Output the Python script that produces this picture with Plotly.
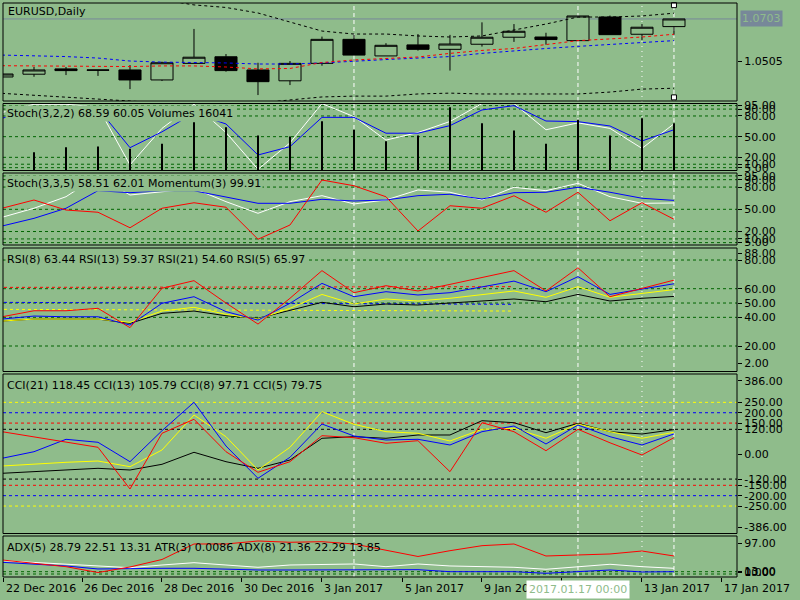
import plotly.graph_objects as go

BG = "#8FBC8B"
LEVEL = "#006400"
FONT = "DejaVu Sans"

# bar index, 22 Dec 2016 ... 17 Jan 2017
bars = list(range(22))

opens = [1.0430, 1.0443, 1.0468, 1.0463, 1.0463, 1.0416, 1.0494, 1.0525, 1.0463, 1.0412, 1.0494,
         1.0607, 1.0529, 1.0581, 1.0560, 1.0584, 1.0617, 1.0618, 1.0601, 1.0712, 1.0631, 1.0667]
highs = [1.0446, 1.0477, 1.0477, 1.0463, 1.0486, 1.0502, 1.0656, 1.0538, 1.0497, 1.0505, 1.0620,
         1.0628, 1.0589, 1.0632, 1.0628, 1.0687, 1.0679, 1.0638, 1.0717, 1.0719, 1.0679, 1.0703]
lows = [1.0428, 1.0431, 1.0439, 1.0435, 1.0373, 1.0411, 1.0494, 1.0455, 1.0345, 1.0392, 1.0483,
        1.0533, 1.0529, 1.0554, 1.0460, 1.0573, 1.0595, 1.0582, 1.0601, 1.0629, 1.0604, 1.0626]
closes = [1.0444, 1.0463, 1.0460, 1.0462, 1.0416, 1.0497, 1.0523, 1.0460, 1.0408, 1.0494, 1.0607,
          1.0533, 1.0579, 1.0560, 1.0585, 1.0617, 1.0645, 1.0606, 1.0717, 1.0629, 1.0664, 1.0703]

band_up = [1.0887, 1.0863, 1.0840, 1.0821, 1.0807, 1.0793, 1.0769, 1.0757, 1.0731, 1.0689, 1.0646,
           1.0632, 1.0632, 1.0623, 1.0618, 1.0623, 1.0651, 1.0679, 1.0712, 1.0712, 1.0717, 1.0730]
band_lo = [1.0353, 1.0345, 1.0336, 1.0326, 1.0317, 1.0307, 1.0303, 1.0303, 1.0307, 1.0322, 1.0336,
           1.0340, 1.0340, 1.0350, 1.0354, 1.0350, 1.0350, 1.0350, 1.0350, 1.0359, 1.0373, 1.0377]
ma_blue = [1.0533, 1.0531, 1.0526, 1.0519, 1.0505, 1.0500, 1.0499, 1.0496, 1.0491, 1.0491, 1.0496,
           1.0505, 1.0512, 1.0519, 1.0526, 1.0541, 1.0554, 1.0564, 1.0574, 1.0584, 1.0591, 1.0601]
ma_red = [1.0483, 1.0482, 1.0480, 1.0477, 1.0479, 1.0482, 1.0482, 1.0477, 1.0468, 1.0470, 1.0498,
          1.0510, 1.0518, 1.0524, 1.0541, 1.0555, 1.0564, 1.0581, 1.0601, 1.0609, 1.0618, 1.0631]
bid = 1.0703

volumes = [7000, 6200, 7900, 8140, 7360, 9050, 16370, 14680, 11870, 11530, 16710,
           13800, 9930, 11870, 21460, 16040, 13560, 9050, 17190, 11870, 17730, 16041]
stoch1_main = [85, 97, 97, 93, 9, 62, 97, 56, 2.6, 41, 98, 79, 45, 56, 72, 98, 98, 60, 70, 62, 33, 68.59]
stoch1_sig = [76.6, 90, 88, 91, 34, 57, 84, 68.4, 23.4, 35.5, 78, 78, 55, 55, 66, 88.7, 95, 72.7, 71.8,
              65.5, 43.7, 60.05]

stoch2_main = [39.2, 51.4, 67, 95, 69.3, 73.8, 78, 60.3, 44.6, 60.3, 68.4, 57.2, 62.6, 76.1, 73, 62.6,
               79.7, 75.1, 85.1, 67, 58.1, 58.51]
stoch2_sig = [27.4, 37.8, 51.4, 75.1, 72.4, 75.1, 75, 67, 58.1, 58.1, 63.5, 61.2, 62.6, 68.4, 70.3, 63.9,
              72.4, 73, 79.7, 73, 64.9, 62.01]
momentum = [100.35, 100.68, 100.28, 100.19, 99.57, 100.35, 100.57, 100.39, 99.11, 99.68, 101.48,
            101.25, 100.81, 99.44, 100.45, 100.35, 100.85, 100.19, 100.99, 99.85, 100.57, 99.91]
stoch_levels = [95, 90, 80, 50, 20, 10, 5]

rsi5 = [40.4, 44.6, 44.6, 46.3, 32.8, 60.3, 65.6, 50.0, 35.3, 53.3, 72.6, 57.2, 62.1, 58.4, 63.0, 67.9,
        72.6, 58.4, 74.6, 54.4, 60.3, 65.97]
rsi8 = [38.8, 40.9, 40.4, 40.4, 34.6, 49.8, 54.4, 44.0, 38.1, 49.8, 63.7, 54.4, 57.9, 55.6, 57.2, 61.4,
        65.3, 57.9, 68.4, 56.0, 59.8, 63.44]
rsi13 = [37.4, 38.8, 38.8, 38.8, 36.5, 44.4, 47.0, 42.1, 38.8, 46.3, 56.0, 49.3, 52.8, 51.4, 53.3, 56.0,
         58.4, 54.0, 61.4, 54.0, 56.7, 59.37]
rsi21 = [37.4, 38.8, 38.8, 38.8, 35.8, 42.8, 44.4, 41.1, 39.3, 45.1, 50.5, 47.4, 49.3, 48.6, 49.8, 51.4,
         52.8, 50.9, 56.0, 51.4, 53.3, 54.60]
rsi_levels = [80, 60, 50, 40, 20]
# drawn dashed segments in the RSI window (start bar, end bar)
seg_x = [-0.5, 16.0]
seg_red = [60.9, 61.4]
seg_blue = [50.5, 49.1]
seg_yellow = [45.6, 44.4]

cci5 = [108.5, 84.4, 60.3, 33.3, -167.8, 100.8, 168.3, 12.0, -87.3, -36.2, 89.2, 79.6, 52.6, 65.1,
        -84.4, 151.9, 108.5, 16.9, 120.0, 55.0, -3.9, 79.75]
cci8 = [-19.8, 12.0, 71.8, 57.4, -36.2, 113.3, 250.2, 39.5, -116.2, -14.9, 145.6, 87.8, 68.5, 71.8,
        44.4, 108.5, 136.0, 49.2, 140.8, 84.4, 44.4, 97.71]
cci13 = [-56.9, -47.3, -39.1, -32.8, -60.3, 20.3, 189.0, 84.4, -76.2, 33.3, 204.9, 144.2, 108.5, 100.8,
         63.6, 120.0, 124.9, 76.7, 145.6, 108.5, 76.7, 105.79]
cci21 = [-92.1, -84.4, -76.2, -68.0, -76.2, -48.7, 9.2, -36.2, -68.0, -28.0, 76.7, 84.4, 76.7, 92.6,
         92.6, 161.5, 151.9, 103.7, 149.0, 108.5, 97.4, 118.45]
cci_levels = [(120, "black"), (150, "red"), (200, "blue"), (250, "yellow")]

adx_red = [42.5, 30.4, 20.6, 1.6, 19.6, 44.1, 94.7, 94.7, 104.5, 100.3, 102.2, 94.7, 75.1, 53.9, 72.8,
           89.2, 94.7, 55.5, 58.8, 62.1, 71.8, 55.5]
adx_white = [40.2, 34.9, 28.4, 22.9, 17.3, 26.1, 33.6, 26.1, 18.6, 26.1, 28.4, 29.4, 20.6, 29.4, 22.9,
             20.6, 18.6, 12.1, 20.6, 28.4, 20.6, 15.3]
adx_blue = [34.9, 28.4, 22.9, 13.1, 15.3, 15.3, 15.3, 12.1, 9.8, 9.8, 9.8, 9.8, 9.8, 10.8, 4.2, 4.2,
            4.2, -1.0, 4.2, 9.8, 3.3, 4.2]
adx_levels = [4.2, -3.3]

tick_pos = [0.05, 2.5, 5, 7.5, 10, 12.53, 15, 17.5, 20, 22.5]
tick_text = ["22 Dec 2016", "26 Dec 2016", "28 Dec 2016", "30 Dec 2016", "3 Jan 2017",
             "5 Jan 2017", "9 Jan 2017", "11 Jan 2017", "13 Jan 2017", "17 Jan 2017"]
vlines_dash = [11, 18, 21]
vlines_dot = [20]

# pixel geometry of the plot area
L, R, T, B = 3, 737, 3, 577


def fx(px):
    return (px - L) / (R - L)


def fy(py):
    return (B - py) / (B - T)


panes = [(3, 101), (103.5, 170.5), (173, 245), (248, 371.5), (374, 533.5), (536, 577)]
dom = [[fy(b), fy(t)] for t, b in panes]

fig = go.Figure()


def line(y, color, axis, dash=None):
    fig.add_trace(go.Scatter(x=bars, y=y, mode="lines", yaxis=axis, hoverinfo="skip",
                             line=dict(color=color, width=1, dash=dash)))


# main window
line(band_up, "black", "y", "3px,3px")
line(band_lo, "black", "y", "3px,3px")
line(ma_blue, "blue", "y", "3px,3px")
line(ma_red, "red", "y", "3px,3px")
fig.add_trace(go.Candlestick(
    x=bars, open=opens, high=highs, low=lows, close=closes, yaxis="y",
    increasing=dict(line=dict(color="black", width=1), fillcolor=BG),
    decreasing=dict(line=dict(color="black", width=1), fillcolor="black"),
    hoverinfo="skip"))
fig.add_trace(go.Scatter(x=[21, 21], y=[1.0768, 1.0334], mode="markers", yaxis="y", cliponaxis=False,
                         marker=dict(symbol="square", size=5, color="white",
                                     line=dict(color="black", width=1))))

# stochastic + volumes
fig.add_trace(go.Bar(x=bars, y=volumes, yaxis="y3", width=0.05, marker=dict(color="black", line=dict(width=0))))
line(stoch1_main, "white", "y2")
line(stoch1_sig, "blue", "y2")

# stochastic + momentum
line(stoch2_main, "white", "y4")
line(stoch2_sig, "blue", "y4")
line(momentum, "red", "y5")

# RSI
for seg, c in [(seg_red, "red"), (seg_blue, "blue"), (seg_yellow, "yellow")]:
    fig.add_trace(go.Scatter(x=seg_x, y=seg, mode="lines", yaxis="y6", hoverinfo="skip",
                             line=dict(color=c, width=1, dash="3px,3px")))
line(rsi21, "black", "y6")
line(rsi13, "yellow", "y6")
line(rsi8, "blue", "y6")
line(rsi5, "red", "y6")

# CCI
line(cci21, "black", "y7")
line(cci13, "yellow", "y7")
line(cci8, "blue", "y7")
line(cci5, "red", "y7")

# ADX
line(adx_blue, "blue", "y8")
line(adx_white, "white", "y8")
line(adx_red, "red", "y8")

tickfont = dict(family=FONT, size=11, color="black")


def yax(domain, rng, vals=None, texts=None):
    ax = dict(domain=domain, range=rng, side="right", anchor="x", showgrid=False, zeroline=False,
              ticks="outside", ticklen=4, tickcolor="black", tickfont=tickfont, fixedrange=True)
    if vals is None:
        ax["showticklabels"] = False
        ax["ticks"] = ""
    else:
        ax["tickmode"] = "array"
        ax["tickvals"] = vals
        ax["ticktext"] = texts if texts else [f"{v:.2f}" for v in vals]
    return ax


shapes = []
for t, b in panes:
    shapes.append(dict(type="rect", xref="paper", yref="paper", x0=0, x1=1, y0=fy(b), y1=fy(t),
                       line=dict(color="black", width=1), layer="above"))
for ax in ["y2", "y4"]:
    for v in stoch_levels:
        shapes.append(dict(type="line", xref="paper", yref=ax, x0=0, x1=1, y0=v, y1=v, layer="below",
                           line=dict(color=LEVEL, width=1, dash="3px,3px")))
for v in rsi_levels:
    shapes.append(dict(type="line", xref="paper", yref="y6", x0=0, x1=1, y0=v, y1=v, layer="below",
                       line=dict(color=LEVEL, width=1, dash="3px,3px")))
for v, c in cci_levels:
    for s in (1, -1):
        shapes.append(dict(type="line", xref="paper", yref="y7", x0=0, x1=1, y0=s * v, y1=s * v,
                           layer="below", line=dict(color=c, width=1, dash="3px,3px")))
for v in adx_levels:
    shapes.append(dict(type="line", xref="paper", yref="y8", x0=0, x1=1, y0=v, y1=v, layer="below",
                       line=dict(color=LEVEL, width=1, dash="3px,3px")))
shapes.append(dict(type="line", xref="paper", yref="y", x0=0, x1=1, y0=bid, y1=bid, layer="below",
                   line=dict(color="#778899", width=1)))
for xv in vlines_dash:
    shapes.append(dict(type="line", xref="x", yref="paper", x0=xv, x1=xv, y0=0, y1=1, layer="below",
                       line=dict(color="white", width=1, dash="4px,3px")))
for xv in vlines_dot:
    shapes.append(dict(type="line", xref="x", yref="paper", x0=xv, x1=xv, y0=0, y1=1, layer="below",
                       line=dict(color="white", width=1, dash="1px,4px")))

txt = dict(family=FONT, size=11, color="black")
annotations = [
    dict(text="EURUSD,Daily", x=fx(6), y=fy(12)),
    dict(text="Stoch(3,2,2) 68.59 60.05 Volumes 16041", x=fx(5), y=fy(114), bgcolor=BG),
    dict(text="Stoch(3,3,5) 58.51 62.01 Momentum(3) 99.91", x=fx(5), y=fy(183), bgcolor=BG),
    dict(text="RSI(8) 63.44 RSI(13) 59.37 RSI(21) 54.60 RSI(5) 65.97", x=fx(5), y=fy(259), bgcolor=BG),
    dict(text="CCI(21) 118.45 CCI(13) 105.79 CCI(8) 97.71 CCI(5) 79.75", x=fx(5), y=fy(385), bgcolor=BG),
    dict(text="ADX(5) 28.79 22.51 13.31 ATR(3) 0.0086 ADX(8) 21.36 22.29 13.85", x=fx(5), y=fy(547)),
]
for a in annotations:
    a.update(xref="paper", yref="paper", xanchor="left", yanchor="middle", showarrow=False, font=txt)
for p, s in zip(tick_pos, tick_text):
    annotations.append(dict(text=s, x=p, y=fy(588), xref="x", yref="paper", xanchor="left",
                            yanchor="middle", showarrow=False, font=txt))
annotations.append(dict(text="2017.01.17 00:00", x=18, y=fy(589), xref="x", yref="paper",
                        xanchor="center", yanchor="middle", showarrow=False, bgcolor="white",
                        borderpad=2, font=dict(family=FONT, size=11, color=BG)))
annotations.append(dict(text="1.0703", x=fx(740), y=bid, xref="paper", yref="y", xanchor="left",
                        yanchor="middle", showarrow=False, bgcolor="#778899", borderpad=1,
                        font=dict(family=FONT, size=11, color=BG)))

fig.update_layout(
    width=800, height=600,
    margin=dict(l=L, r=800 - R, t=T, b=600 - B, autoexpand=False),
    paper_bgcolor=BG, plot_bgcolor=BG,
    showlegend=False, hovermode=False, barmode="overlay",
    boxgap=0.31, boxgroupgap=0,
    xaxis=dict(domain=[0, 1], anchor="y8", range=[0.03125, 22.97], showgrid=False, zeroline=False,
               tickmode="array", tickvals=tick_pos, showticklabels=False, ticks="outside",
               ticklen=4, tickcolor="black", rangeslider=dict(visible=False), fixedrange=True),
    yaxis=yax(dom[0], [1.0317, 1.0778], [1.0505], ["1.0505"]),
    yaxis2=yax(dom[1], [0.9, 98.1], stoch_levels),
    yaxis3=dict(overlaying="y2", range=[0, 22700], visible=False, fixedrange=True),
    yaxis4=yax(dom[2], [1.8, 99.0], stoch_levels),
    yaxis5=dict(overlaying="y4", range=[98.88, 101.76], visible=False, fixedrange=True),
    yaxis6=yax(dom[3], [2.2, 88.4], [84.9] + rsi_levels + [7.9],
               ["88.00"] + [f"{v:.2f}" for v in rsi_levels] + ["2.00"]),
    yaxis7=yax(dom[4], [-382.4, 386.7],
               [353, 250, 200, 150, 120, 0, -120, -150, -200, -250, -352],
               ["386.00", "250.00", "200.00", "150.00", "120.00", "0.00", "-120.00", "-150.00",
                "-200.00", "-250.00", "-386.00"]),
    yaxis8=yax(dom[5], [-13.1, 120.8], [97, 4.5, 3.3, 2.0], ["97.00", "13.00", "10.00", "0.00"]),
    shapes=shapes,
    annotations=annotations,
)

# the page body has a default 8px margin; drop it so the chart sits at the window corner
fig.write_html("out.html", config={"displayModeBar": False},
               post_script="document.body.style.margin='0';")
